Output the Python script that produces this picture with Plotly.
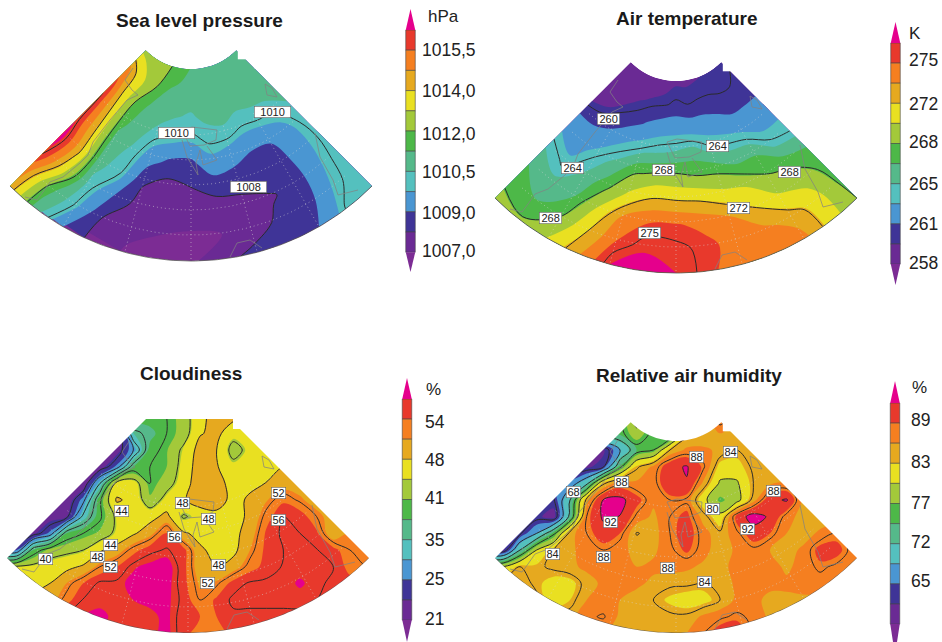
import numpy as np
import plotly.graph_objects as go

# ---------- shared colours (low arrow to high arrow) ----------
band_colors = ["#7C2C94", "#6A2A94", "#3F3497", "#4A96D2", "#54C0BE", "#55B98A", "#4DB848",
               "#A3C93A", "#E9E021", "#E6A91F", "#F57F20", "#E8392C", "#E5008C"]

# ---------- sea level pressure, hPa: rows = radius, cols = bearing ----------
bearings = [-45, -37.5, -30, -22.5, -15, -7.5, 0, 7.5, 15, 22.5, 30, 37.5, 45]
radii = [64, 88, 112, 136, 160, 184, 208, 232, 256]
slp_bounds = [1007, 1008, 1009, 1009.75, 1010.5, 1011.25, 1012, 1013, 1014, 1014.75, 1015.5, 1016.25]
slp_values = [
 [1012.6,1012.5,1012.6,1012.3,1011.9,1011.6,1011.2,1011,1011,1011,1011,1011,1011],
 [1015,1013.8,1012.8,1012.0,1011.25,1011,1010.9,1010.9,1010.9,1011,1011,1011,1011],
 [1015.9,1013.9,1012,1011.1,1010.9,1010.55,1010.4,1010.7,1010.9,1010.6,1010.7,1010.8,1010.8],
 [1016.1,1014,1011.4,1010.8,1010.1,1009.9,1009.8,1010.1,1010.1,1009.85,1009.9,1010,1010.5],
 [1016.2,1014.1,1011,1010.3,1009.3,1008.7,1008.65,1009.5,1009.2,1008.9,1009,1009.5,1010.2],
 [1016.6,1014.2,1010.7,1009.95,1008.1,1007.6,1007.95,1008.3,1008.4,1008.5,1008.6,1009.5,1010.1],
 [1016.1,1013.3,1010.3,1009,1007.6,1007.2,1007.3,1007.5,1007.6,1007.9,1008.3,1009.6,1010.2],
 [1015.1,1011.5,1009.9,1007.9,1007.2,1007,1006.9,1006.95,1007.5,1008.2,1008.5,1009.75,1010.3],
 [1014.6,1010.9,1009,1007.6,1006.9,1006.8,1006.8,1007.7,1008.3,1008.6,1009,1010.05,1010.4],
]
# ---------- air temperature, K ----------
temp_bounds = [258, 259.5, 261, 263, 265, 266.5, 268, 270, 272, 273.5, 275, 276]
temp_values = [
 [258.0,258.1,258.3,258.5,258.7,259,259.3,259.3,259.4,259.5,259.6,259.7,259.9],
 [258.4,258.6,258.8,259.4,259.7,259.9,260.2,260,260.1,260.1,260,260,260.1],
 [258.9,259.4,260.1,260.5,261.3,262,262.2,262,262,261.5,261,261,261],
 [261,261,261.5,263,264,264.8,265.2,265.6,264.3,263.9,263.3,262.3,262.5],
 [262.9,262,263.9,265.5,267.7,268.4,268.5,268,267.7,266.6,266.5,264.5,263.9],
 [265,263.7,265.3,267.6,270.4,272.2,272.1,271.8,270.8,270,268.2,267.5,266.5],
 [266.5,265.5,266.5,270.2,273.8,275,275.1,274.6,273.7,272.2,270.4,269.5,267.4],
 [267.5,266.6,268.1,272,275,275.9,275.7,275.3,274.4,274,273,271,267.7],
 [268.7,268.3,270.1,273.3,276,276.3,276,275.2,274.2,274,274,271,268],
]
# ---------- cloudiness, %: (first column, values) per row ----------
cloud_bounds = [21, 23, 25, 30, 35, 38, 41, 44.5, 48, 51, 54, 57]
cloud_rows = [
 (350,[39,39.5,39.5,40,42,47,49.5,49,47]),
 (350,[21,35,37,40,42,47.7,49,45.5,47]),
 (350,[22,28,39,40.8,44.8,49.5,48,42.5,45.3,47]),
 (300,[22,26,38,40,41,45.5,50,48.3,45.2,46.5,46.8,48]),
 (250,[21.5,32,45.5,46,40,42.5,46,50.5,49,47,47.3,48.1,49.5]),
 (200,[21.5,27,39.5,48.5,47,41.5,45.5,47.5,50,49.5,47,48.5,50.8,53.5,51.5,49.5]),
 (150,[22,23,33,39.5,44.8,44.8,46.8,49,43.5,45.5,47,47,48.5,53,56,55.5,52,49.5]),
 (100,[22.5,26,38,40,41.5,45,47.5,50,54.5,48.5,47,47,47,49.5,54.5,56.5,56,54.5,48.5,51]),
 (50,[25,38,42,43,44,47.5,49.5,53,55.5,56.2,55,48.5,47,47,51,54.8,56,56.5,56.1,55,52,51]),
 (50,[44.5,45,46,47,48.5,52,54,56.8,57.5,58,55,49,48,49.5,53,54.8,56.2,56.5,56.5,56.1,53,52]),
 (100,[46,48,51,54,56.5,56.5,57.5,57.5,57.8,55,50.5,51.5,55,56.3,56.5,56.5,57.2,56.5,55.5,55]),
 (150,[50,53,56.2,56.5,56.5,57,57.5,57.5,55.5,52,54.5,56.5,56.5,56.5,56.5,56.5,56]),
 (250,[57,57.5,56.5,56.5,56.5,57.5,55,54,54,55.5,55.5,55.5,55.5]),
 (300,[56.5,56.5,56.5,56.5,57.6,55,52.5,52.5,55,55,55,55]),
]
# ---------- relative air humidity, % ----------
humid_bounds = [60, 62.5, 65, 68.5, 72, 74.5, 77, 80, 83, 86, 89, 92]
humid_rows = [
 (450,[75,82,75,72,83,84,90,86]),
 (450,[75,79,75,72,83,84,86,86]),
 (400,[62,68,74.5,76,84,86.5,86.5,85.5,84,85]),
 (350,[62,63.5,75,83.5,86.5,91,92.3,88.5,82,82,84.5,85]),
 (300,[66,71,83.5,87.5,86.5,87,91.6,91.8,85.5,79.5,79.5,84,85.5,86]),
 (250,[63.5,72,85,92.2,93,90,86.5,88,87.5,81,76.5,78.5,85,91,92.4,85]),
 (200,[63,61.5,73,88,92.6,91.9,87.5,85.5,88,89.8,85,81,90,93.5,91.5,87,85,84.5]),
 (150,[63.5,68,75,85,88,90.5,89,83.8,85,88,90.5,87,84.5,87.5,90.5,89,86,84.8,86.5,88]),
 (100,[62,72,80,84,85.5,87,88,86.5,85.5,85.5,87.5,89.5,87,84.5,86.5,87.5,86,85,86.5,90,90,87]),
 (100,[80,84,83.5,84.5,85.5,86.5,86.5,86.5,86,86.5,87,86.5,85.5,85,87,88,87,85.5,87,88.5,87.5,86]),
 (150,[85,83.5,82,82,85,86.5,86.5,86.5,85.5,84.5,84.5,83.8,84.5,86.5,87,86.5,86.5,87,87]),
 (200,[84.5,81.5,83,86,86.5,86,85,84,82.5,81.5,82,84,86.5,86.5,85.5,85.5,85.5]),
 (300,[85,87.5,88.3,85.5,84.5,84.5,84.5,84.5,86.5,87.5,88.5,87.5,85.5]),
 (400,[86,85,84.5,85,85,86,88,90.5,90.5,88,86]),
]
grid_rows_y = [200 + 50 * i for i in range(14)]

# ---------- text ----------
titles = ["Sea level pressure", "Air temperature", "Cloudiness", "Relative air humidity"]
units = ["hPa", "K", "%", "%"]
slp_ticks = ["1015,5", "1014,0", "1012,0", "1010,5", "1009,0", "1007,0"]
temp_ticks = ["275", "272", "268", "265", "261", "258"]
cloud_ticks = ["54", "48", "41", "35", "25", "21"]
humid_ticks = ["89", "83", "77", "72", "65"]

slp_labels = [("1010",176,133,36),("1010",272,112,36),("1008",248,187,36)]
temp_labels = [("260",608,119,22),("264",717,146,22),("264",572,168,22),("268",663,170,22),
               ("268",789,172,22),("268",550,218,22),("272",738,208,22),("275",649,233,22)]
cloud_labels = [("44",121,511,14),("48",182,503,14),("48",208,519,14),("52",278,493,14),
                ("56",278,520,14),("56",174,537,14),("44",110,545,14),("48",97,557,14),
                ("40",45,559,14),("52",110,567,14),("48",218,565,14),("52",207,583,14)]
humid_labels = [("68",573,492,14),("88",621,482,14),("88",696,457,14),("84",730,452,14),
                ("88",773,491,14),("80",712,509,14),("92",610,522,14),("92",747,529,14),
                ("84",552,554,14),("88",603,557,14),("88",667,568,14),("84",704,582,14)]

# coast outlines, shared by all maps, as offsets from the fan centre
coast_lines = [
 [(-166,192),(-154,195),(-148,187),(-141,177),(-128,172),(-111,158),(-103,150),(-98,137),(-81,115),(-64,95),(-53,90),(-59,85),(-66,75),(-58,63)],
 [(-9,125),(1,122),(26,125),(25,135),(13,140),(-1,141),(-9,125)],
 [(-9,135),(-4,152),(7,170),(5,158),(9,145),(12,160),(26,155),(16,141)],
 [(74,79),(76,90),(86,92),(81,83),(74,79)],
 [(124,128),(129,152),(142,175),(147,190),(167,185)],
 [(39,252),(46,238),(59,235),(71,243)],
]

# ---------- geometry of each panel ----------
centres = [(191, 5), (676, 17), (188, 377), (676, 377)]
R_IN, R_OUT = 64, 256
cb_x = [410.5, 895.5, 407, 895]
cb_top = [30, 43, 399, 403]
cb_tip = [9, 22, 378, 381]
cb_tip_low = [272, 285, 642, 655]
cb_step = [20.2, 20.1, 20.1, 20.1]
tick_x = [420, 907, 423, 909]
tick_y = [[50,91,134,172,213,251],[60,104,142,184,224,263],[422,460,498,540,579,619],[420,462,503,542,581]]
unit_xy = [(426,16),(907,33),(424,389),(910,387)]
title_xy = [(199,20),(687,18),(191,373),(689,375)]


def to_index(vals, bounds):
    b = np.array(bounds, float)
    lo = b[0] - (b[1] - b[0]) * 20
    hi = b[-1] + (b[-1] - b[-2]) * 20
    return np.interp(np.array(vals, float), np.r_[lo, b, hi], np.r_[-20, np.arange(12), 31])


def pad_rows(rows, first, n, step=50):
    out = []
    for start, vals in rows:
        i0 = (start - first) // step
        row = [vals[0]] * i0 + list(vals)
        row += [vals[-1]] * (n - len(row))
        out.append(row[:n])
    return out


colorscale = [[i / 12, c] for i, c in enumerate(band_colors)]
fig = go.Figure()
common = dict(colorscale=colorscale, showscale=False, autocontour=False,
              contours=dict(start=0, end=11, size=1, coloring="fill"), line=dict(width=0))
LINE = dict(color="#2b2b2b", width=1)


def add_fan(idx, values, bounds, line_specs):
    cx, cy = centres[idx]
    th = np.radians(bearings)
    X = [[cx + r * np.sin(t) for t in th] for r in radii]
    Y = [[cy + r * np.cos(t) for t in th] for r in radii]
    cid = f"fan{idx}"
    axis = dict(showgrid=False, showticklabels="none", showline=False, minorgridcount=0, startline=False, endline=False)
    fig.add_trace(go.Carpet(a=bearings, b=radii, x=X, y=Y, carpet=cid, aaxis=axis, baxis=axis))
    fig.add_trace(go.Contourcarpet(a=bearings, b=radii, z=to_index(values, bounds).tolist(), carpet=cid, **common))
    for s, e, d in line_specs:
        fig.add_trace(go.Contourcarpet(a=bearings, b=radii, z=values, carpet=cid, showscale=False, autocontour=False,
                                       contours=dict(start=s, end=e, size=d, coloring="none"), line=LINE))


def add_grid(xs, ys, values, bounds, line_specs):
    fig.add_trace(go.Contour(x=xs, y=ys, z=to_index(values, bounds).tolist(), hoverinfo="skip", **common))
    for s, e, d in line_specs:
        fig.add_trace(go.Contour(x=xs, y=ys, z=values, showscale=False, autocontour=False, hoverinfo="skip",
                                 contours=dict(start=s, end=e, size=d, coloring="none"), line=LINE))


add_fan(0, slp_values, slp_bounds, [(1008, 1016, 2)])
add_fan(1, temp_values, temp_bounds, [(260, 272, 4), (275.5, 275.5, 1)])

cloud_x = [z / 3 for z in range(0, 1200, 50)]
cloud_y = [350 + z / 3 for z in grid_rows_y]
add_grid(cloud_x, cloud_y, pad_rows(cloud_rows, 0, 24), cloud_bounds, [(24, 56, 4)])
humid_x = [470 + z / 3 for z in range(50, 1250, 50)]
humid_y = [350 + z / 3 for z in grid_rows_y]
add_grid(humid_x, humid_y, pad_rows(humid_rows, 50, 24), humid_bounds, [(64, 92, 4)])


def fan_outline(idx):
    cx, cy = centres[idx]
    outer = [(cx + R_OUT * np.sin(t), cy + R_OUT * np.cos(t)) for t in np.radians(np.linspace(45, -45, 91))]
    if idx == 2:
        top = 419
        k = top - cy
        inner = [(cx - k, top), (cx + 45, top), (cx + 45, top + 10), (cx + 52, top + 10)]
    else:
        inner = [(cx + R_IN * np.sin(t), cy + R_IN * np.cos(t)) for t in np.radians(np.linspace(-45, 45, 31))]
    return outer, inner


def path(points):
    return "M" + "L".join(f"{x:.1f},{y:.1f}" for x, y in points) + "Z"


shapes = []
# white mask round the rectangular grids so that they end on the fan outline
mask_boxes = [(0, 410, 386, 642), (480, 410, 875, 642)]
for idx, box in zip((2, 3), mask_boxes):
    outer, inner = fan_outline(idx)
    x0, y0, x1, y1 = box
    rect = [(x0, y0), (x1, y0), (x1, y1), (x0, y1)]
    shapes.append(dict(type="path", path=path(rect) + path(outer + inner), fillcolor="white",
                       line=dict(width=0), layer="above", fillrule="evenodd", xref="x", yref="y"))
# small step at the inner right corner of the fans
for idx in (0, 1, 3):
    cx, cy = centres[idx]
    a = R_IN * np.sin(np.pi / 4)
    step_box = [(cx + a + 1.5, cy + a - 3), (cx + a + 1.5, cy + a + 9), (cx + a + 11, cy + a + 9), (cx + a + 11, cy + a - 3)]
    shapes.append(dict(type="path", path=path(step_box), fillcolor="white", line=dict(width=0), layer="above"))

# graticule, coasts, outer arc
for idx in range(4):
    cx, cy = centres[idx]
    gx, gy = [], []
    for r in (130, 155, 180, 205, 230):
        ts = np.radians(np.linspace(-42, 42, 60))
        gx += list(cx + r * np.sin(ts)) + [None]
        gy += list(cy + r * np.cos(ts)) + [None]
    for b in (-30, -15, 0, 15, 30):
        t = np.radians(b)
        gx += [cx + 125 * np.sin(t), cx + R_OUT * np.sin(t), None]
        gy += [cy + 125 * np.cos(t), cy + R_OUT * np.cos(t), None]
    fig.add_trace(go.Scatter(x=gx, y=gy, mode="lines", hoverinfo="skip",
                             line=dict(color="rgba(215,215,215,0.55)", width=1, dash="1px 3px")))
    cxs, cys = [], []
    for piece in coast_lines:
        cxs += [cx + p[0] for p in piece] + [None]
        cys += [cy + p[1] for p in piece] + [None]
    fig.add_trace(go.Scatter(x=cxs, y=cys, mode="lines", hoverinfo="skip", line=dict(color="rgba(130,130,130,0.8)", width=0.9)))
    outer, _ = fan_outline(idx)
    fig.add_trace(go.Scatter(x=[p[0] for p in outer], y=[p[1] for p in outer], mode="lines", hoverinfo="skip",
                             line=dict(color="#555555", width=0.8)))

# colour keys
CB_W = 9.5
for idx in range(4):
    x, top, step = cb_x[idx], cb_top[idx], cb_step[idx]
    n = 11
    bases = [top + i * step for i in range(n)]
    cols = band_colors[11:0:-1]
    fig.add_trace(go.Bar(x=[x] * n, y=[step] * n, base=bases, width=CB_W, hoverinfo="skip",
                         marker=dict(color=cols, line=dict(color="#444444", width=0.6))))
    low = top + n * step
    fig.add_trace(go.Scatter(x=[x - CB_W / 2, x, x + CB_W / 2], y=[top, cb_tip[idx], top], fill="toself", mode="none",
                             fillcolor=band_colors[12], hoverinfo="skip"))
    fig.add_trace(go.Scatter(x=[x - CB_W / 2, x, x + CB_W / 2], y=[low, cb_tip_low[idx], low], fill="toself", mode="none",
                             fillcolor=band_colors[0], hoverinfo="skip"))

ann = []
FONT = "Liberation Sans, Arial, sans-serif"
for t, (x, y) in zip(titles, title_xy):
    ann.append(dict(x=x, y=y, text=f"<b>{t}</b>", showarrow=False, font=dict(family=FONT, size=19, color="#1a1a1a")))
for u, (x, y) in zip(units, unit_xy):
    ann.append(dict(x=x, y=y, text=u, showarrow=False, xanchor="left", font=dict(family=FONT, size=17, color="#222222")))
for idx, ticks in enumerate([slp_ticks, temp_ticks, cloud_ticks, humid_ticks]):
    for lab, y in zip(ticks, tick_y[idx]):
        ann.append(dict(x=tick_x[idx], y=y, text=lab, showarrow=False, xanchor="left",
                        font=dict(family=FONT, size=17.5, color="#222222")))
for labels in (slp_labels, temp_labels, cloud_labels, humid_labels):
    for lab, x, y, w in labels:
        ann.append(dict(x=x, y=y, text=lab, showarrow=False, width=w, height=11, bgcolor="white", bordercolor="#666666",
                        borderwidth=0.6, borderpad=0, font=dict(family=FONT, size=11, color="#222222")))

fig.update_layout(width=942, height=642, margin=dict(l=0, r=0, t=0, b=0), showlegend=False,
                  paper_bgcolor="white", plot_bgcolor="white", barmode="overlay",
                  xaxis=dict(range=[0, 942], visible=False, fixedrange=True),
                  yaxis=dict(range=[642, 0], visible=False, fixedrange=True),
                  shapes=shapes, annotations=ann)
fig.write_html("out.html", config=dict(displayModeBar=False),
               post_script="document.body.style.margin='0';document.documentElement.style.overflow='hidden';")
